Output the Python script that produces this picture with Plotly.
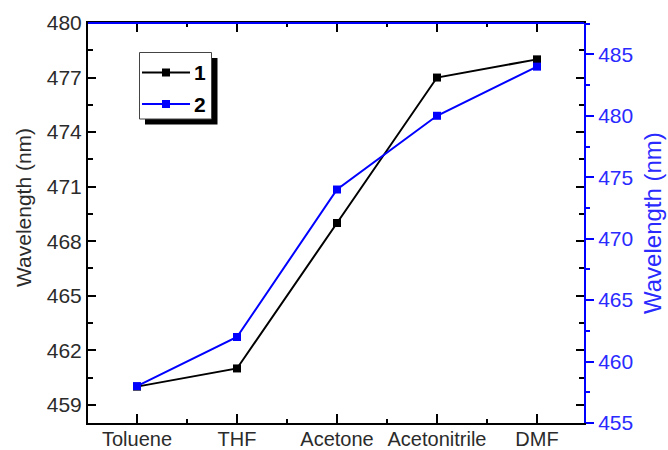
import plotly.graph_objects as go

solvents = ["Toluene", "THF", "Acetone", "Acetonitrile", "DMF"]
series1 = [460, 461, 469, 477, 478]
series2 = [458, 462, 474, 480, 484]
left_ticks = [459, 462, 465, 468, 471, 474, 477, 480]
right_ticks = [455, 460, 465, 470, 475, 480, 485]
legend_labels = ["1", "2"]

xpos = list(range(len(solvents)))
FONT = "Arial, Liberation Sans, sans-serif"
BLUE = "#0000ff"
TXT = "#2b2b2b"
TXTB = "#2a2aff"

L, R, T, B = 88, 584, 23, 423
PW, PH = R - L, B - T


def px(x):
    return (x - L) / PW


def py(y):
    return (B - y) / PH


fig = go.Figure()
fig.add_trace(go.Scatter(
    x=xpos, y=series1, name="1", mode="lines+markers",
    line=dict(color="black", width=2),
    marker=dict(symbol="square", size=8, color="black"),
    yaxis="y", showlegend=False))
fig.add_trace(go.Scatter(
    x=xpos, y=series2, name="2", mode="lines+markers",
    line=dict(color=BLUE, width=2),
    marker=dict(symbol="square", size=8, color=BLUE),
    yaxis="y2", showlegend=False))

fig.update_layout(
    width=668, height=450,
    margin=dict(l=L, r=668 - R, t=T, b=450 - B, autoexpand=False),
    paper_bgcolor="white", plot_bgcolor="white",
    font=dict(family=FONT, size=21, color=TXT),
    showlegend=False,
    xaxis=dict(range=[-0.49, 4.47], tickvals=xpos, ticktext=solvents,
               showgrid=False, zeroline=False, automargin=False,
               showline=True, linecolor="black", linewidth=2, mirror="ticks",
               ticks="inside", ticklen=9, tickwidth=2, tickcolor="black",
               minor=dict(dtick=0.5, tick0=0, ticks="inside", ticklen=4,
                          tickwidth=2, tickcolor="black", showgrid=False),
               ticklabelstandoff=-3,
               tickfont=dict(size=20, color=TXT)),
    yaxis=dict(range=[458, 480], tickvals=left_ticks,
               showgrid=False, zeroline=False, automargin=False,
               showline=True, linecolor="black", linewidth=2, mirror="ticks",
               ticks="inside", ticklen=8, tickwidth=2, tickcolor="black",
               minor=dict(dtick=1.5, tick0=459, ticks="inside", ticklen=5,
                          tickwidth=2, tickcolor="black", showgrid=False),
               tickfont=dict(size=21, color=TXT)),
    yaxis2=dict(range=[455, 487.55], tickvals=right_ticks, overlaying="y", side="right",
                showgrid=False, zeroline=False, automargin=False,
                showline=True, linecolor=BLUE, linewidth=2,
                ticks="outside", ticklen=8, tickwidth=2, tickcolor=BLUE,
                minor=dict(dtick=2.5, tick0=455, ticks="outside", ticklen=4,
                           tickwidth=2, tickcolor=BLUE, showgrid=False),
                tickfont=dict(size=21, color=TXTB)),
)

# blue top frame line
fig.add_shape(type="line", xref="paper", yref="paper", x0=0, x1=1, y0=1, y1=1,
              line=dict(color=BLUE, width=2), layer="above")

# legend: shadow, box, samples, labels
fig.add_shape(type="rect", xref="paper", yref="paper",
              x0=px(145), x1=px(217.5), y0=py(124.5), y1=py(58),
              fillcolor="black", line=dict(width=0), layer="above")
fig.add_shape(type="rect", xref="paper", yref="paper",
              x0=px(139.5), x1=px(211.5), y0=py(119), y1=py(52.5),
              fillcolor="white", line=dict(color="#444", width=1), layer="above")
leg_colors = ["black", BLUE]
leg_rows = [72.5, 104]
for lab, col, ry in zip(legend_labels, leg_colors, leg_rows):
    fig.add_shape(type="line", xref="paper", yref="paper",
                  x0=px(142), x1=px(190), y0=py(ry), y1=py(ry),
                  line=dict(color=col, width=2), layer="above")
    fig.add_shape(type="rect", xref="paper", yref="paper",
                  x0=px(162), x1=px(170), y0=py(ry + 4), y1=py(ry - 4),
                  fillcolor=col, line=dict(width=0), layer="above")
    fig.add_annotation(text="<b>%s</b>" % lab, xref="paper", yref="paper",
                       x=px(192), y=py(ry), xanchor="left", yanchor="middle",
                       showarrow=False, font=dict(size=21, color="black"))

fig.add_annotation(text="Wavelength (nm)", xref="paper", yref="paper",
                   x=px(23), y=py(208), textangle=-90, xanchor="center", yanchor="middle",
                   showarrow=False, font=dict(size=21, color=TXT))
fig.add_annotation(text="Wavelength (nm)", xref="paper", yref="paper",
                   x=px(652), y=py(223), textangle=-90, xanchor="center", yanchor="middle",
                   showarrow=False, font=dict(size=24, color=TXTB))

fig.write_html("out.html")
